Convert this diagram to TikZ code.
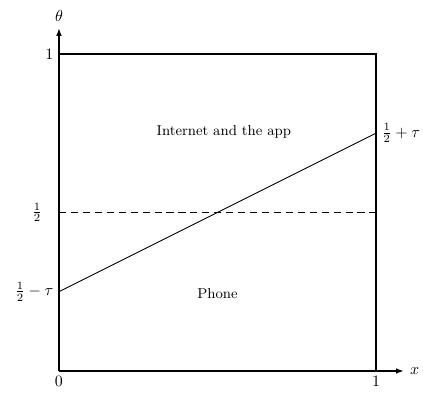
\documentclass[tikz,border=0pt]{standalone}
\usepackage{amsmath}
\usetikzlibrary{arrows.meta}
\begin{document}
\begin{tikzpicture}[x=7cm,y=7cm,>={Latex[length=5pt,width=3.6pt]}]

% Fix the margins
\useasboundingbox (-0.186,-0.0726) rectangle (1.148,1.170);

% Axes
\draw[->,very thick] (0,0) -- (1.088,0) node[right] (xlab) {$x$};
\draw[->,very thick] (0,0) -- (0,1.082) node[above] (thlab) {$\theta$};

% Box
\draw[very thick] (0,1) -- (1,1) -- (1,0);

% Ticks
\node[left] (one) at (0,1) {$1$};
\node[below] (zero) at (0,0) {$0$};
\node[below] (xone) at (1,0) {$1$};
\node[left] (half) at (-0.035,0.5) {$\frac{1}{2}$};

% Threshold
\draw[semithick,dash pattern=on 4.5pt off 3pt] (0,0.5) -- (1,0.5);

% Cut-off line
\draw[semithick] (0,0.25) -- (1,0.75);
\node[left] (low) at (0,0.25) {$\frac{1}{2}-\tau$};
\node[right] (high) at (1,0.75) {$\frac{1}{2}+\tau$};

% Regions
\node[font=\small] (net) at (0.52,0.755) {Internet and the app};
\node[font=\small] (phone) at (0.5,0.243) {Phone};

\end{tikzpicture}
\end{document}
